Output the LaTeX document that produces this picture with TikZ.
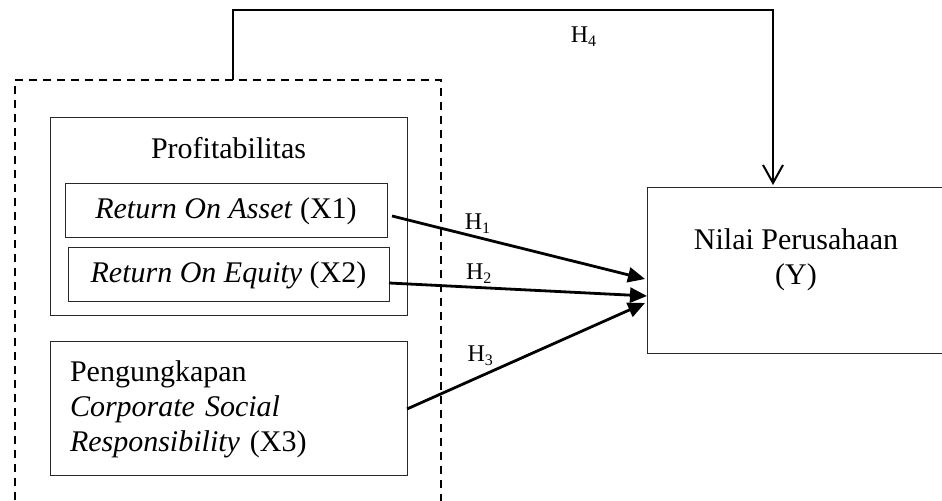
\documentclass[tikz,border=0pt]{standalone}
\usepackage{fontspec}
\setmainfont{Liberation Serif}
\usetikzlibrary{arrows.meta, positioning, calc}

\definecolor{boxline}{RGB}{40, 40, 40}

\begin{document}
\begin{tikzpicture}[x=0.5pt, y=-0.5pt,
  varbox/.style={draw=boxline, line width=0.5pt, inner sep=0pt, outer sep=0pt, anchor=north west},
  maintext/.style={font=\fontsize{15}{17.5}\selectfont, inner sep=0pt},
  hyp/.style={-{Triangle[length=8.5pt, width=7.5pt]}, line width=1.4pt},
  hlabel/.style={font=\fontsize{12}{14}\selectfont, inner sep=1.5pt}]
  \useasboundingbox (0,0) rectangle (942,501);

  % independent variables (dashed group)
  \node[varbox, draw=black, line width=0.8pt, dash pattern=on 4pt off 3pt, minimum width=213pt, minimum height=215pt] (grp) at (15,80) {};

  \node[varbox, minimum width=178.5pt, minimum height=99pt] (prof) at (50,118) {};
  \node[maintext] (proftitle) at ($(prof.north)+(0,30)$) {Profitabilitas};

  \node[varbox, maintext, minimum width=161pt, minimum height=27pt] (roa) at (65,184) {\textit{Return On Asset} (X1)};
  \node[varbox, maintext, minimum width=160.5pt, minimum height=27pt] (roe) at (68,248) {\textit{Return On Equity} (X2)};

  \node[varbox, maintext, minimum width=178.5pt, minimum height=67pt, text width=158.5pt, inner xsep=10pt, align=left] (csr) at (50,342) {Pengungkapan\\\textit{Corporate Social}\\\textit{Responsibility} (X3)};

  % dependent variable
  \node[varbox, minimum width=200pt, minimum height=83pt] (nilai) at (647,188) {};
  \node[maintext, align=center] (nilaitext) at (796,260) {Nilai Perusahaan\\(Y)};

  % hypotheses
  \draw[hyp] ([xshift=2.5pt, yshift=-2.5pt]roa.east) -- ([xshift=-1pt, yshift=-4pt]nilai.west)
    node[hlabel, pos=0.34, above] {H\textsubscript{1}};
  \draw[hyp] ([yshift=-4pt]roe.east) -- ([yshift=-12.5pt]nilai.west)
    node[hlabel, pos=0.35, above] {H\textsubscript{2}};
  \draw[hyp] (csr.east) -- ([xshift=-1pt, yshift=-16pt]nilai.west)
    node[hlabel, pos=0.31, above=3pt] {H\textsubscript{3}};

  \coordinate (turn) at (773,10);
  \draw[line width=1pt, -{Straight Barb[length=9pt, width=10pt]}] ([xshift=2.5pt]grp.north) |- (turn)
    node[hlabel, pos=0.825, below=8pt, inner sep=0pt] {H\textsubscript{4}}
    -- ([yshift=1.5pt]turn |- nilai.north);
\end{tikzpicture}
\end{document}
